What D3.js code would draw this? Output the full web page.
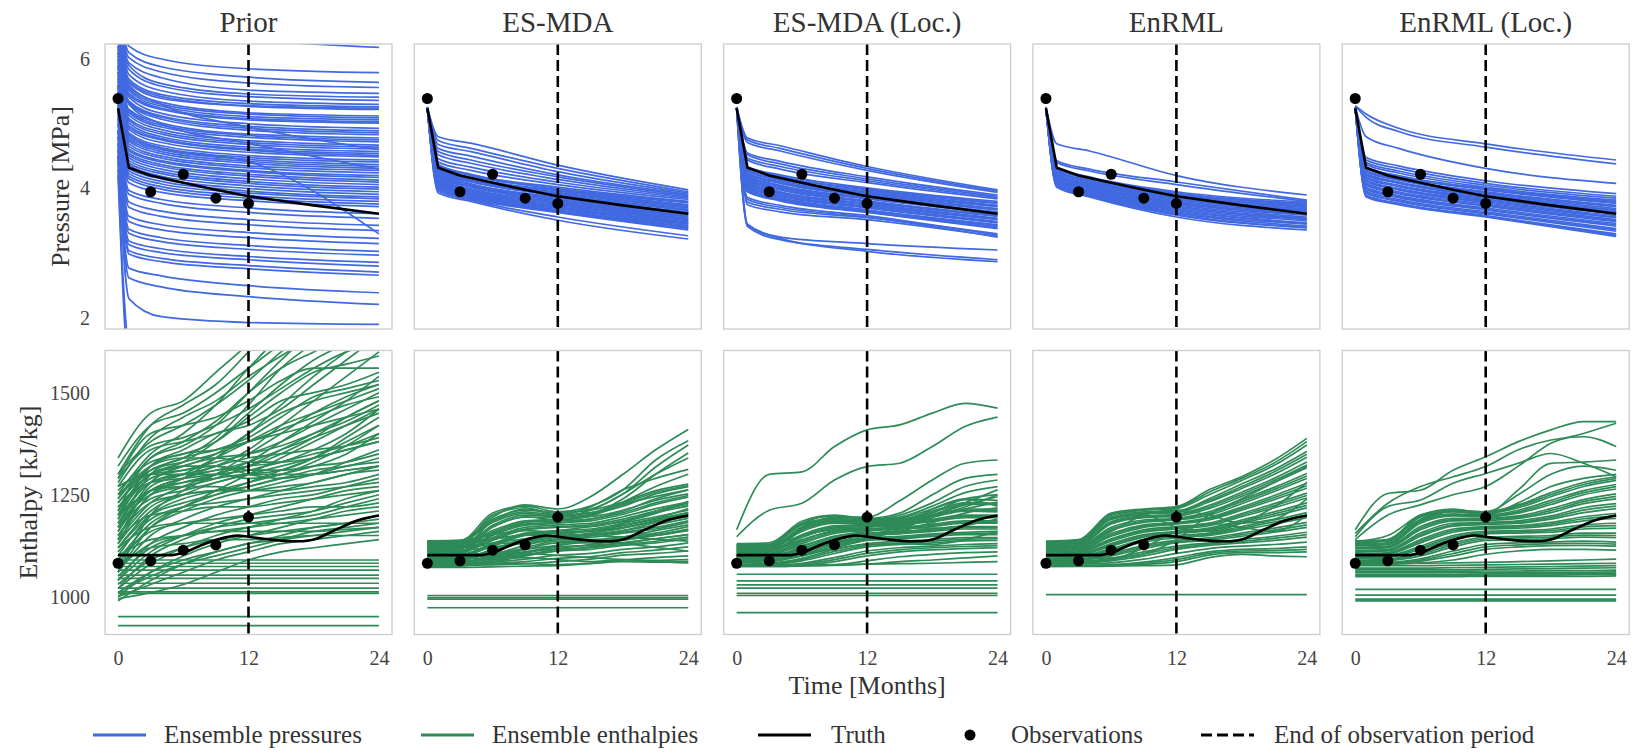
<!DOCTYPE html>
<html>
<head>
<meta charset="utf-8">
<script src="https://cdn.jsdelivr.net/npm/d3@7"></script>
<style>
  body { margin: 0; background: #fff; }
  text { font-family: "Liberation Serif", "Times New Roman", serif; fill: #333; }
</style>
</head>
<body>
<svg id="chart" width="1635" height="753"></svg>
<script>
// ---- data ----
var methods = ["Prior", "ES-MDA", "ES-MDA (Loc.)", "EnRML", "EnRML (Loc.)"]
var xTicks = [0, 12, 24]
var pressureTicks = [2, 4, 6]
var enthalpyTicks = [1000, 1250, 1500]

// knot months of each ensemble member
var pressureMonths = [0, 1, 4, 12, 24]
var enthalpyMonths = [0, 3, 6, 9, 12, 15, 18, 21, 24]

var truthPressureMonths = [0, 1, 3, 6, 9, 12, 18, 24]
var truthPressure = [5.24, 4.32, 4.20, 4.09, 3.98, 3.88, 3.74, 3.61]
var truthEnthalpyMonths = [0, 5, 6, 8, 10, 11, 12, 14, 16, 17, 18, 20, 22, 24]
var truthEnthalpy = [1102, 1102, 1108, 1130, 1146, 1150, 1147, 1140, 1136, 1136, 1140, 1164, 1187, 1199]

var obsMonths = [0, 3, 6, 9, 12]
var obsPressure = [5.39, 3.95, 4.22, 3.85, 3.77]
var obsEnthalpy = [1082, 1088, 1114, 1127, 1195]
var endOfObs = 12

var priorPressure = [
  [7.2, 6.60, 6.45, 6.30, 6.18], [6.9, 6.20, 6.00, 5.85, 5.79], [6.8, 6.10, 5.88, 5.72, 5.64],
  [6.7, 6.02, 5.80, 5.63, 5.56], [6.6, 5.94, 5.71, 5.52, 5.47], [6.8, 5.90, 5.62, 5.46, 5.41],
  [6.5, 5.84, 5.58, 5.42, 5.36], [6.6, 5.76, 5.51, 5.35, 5.30], [6.4, 5.69, 5.45, 5.31, 5.26],
  [6.5, 5.63, 5.39, 5.27, 5.22], [6.3, 5.57, 5.33, 5.17, 5.12], [6.4, 5.51, 5.27, 5.11, 5.06],
  [6.2, 5.44, 5.22, 5.06, 5.01], [6.3, 5.41, 5.16, 5.00, 4.93], [6.1, 5.35, 5.12, 4.96, 4.89],
  [6.2, 5.31, 5.07, 4.90, 4.83], [6.0, 5.22, 5.01, 4.84, 4.78], [6.1, 5.17, 4.95, 4.79, 4.72],
  [5.9, 5.13, 4.91, 4.74, 4.67], [6.0, 5.05, 4.84, 4.68, 4.61], [5.8, 5.01, 4.80, 4.64, 4.57],
  [5.9, 4.94, 4.75, 4.59, 4.51], [5.7, 4.91, 4.71, 4.56, 4.49], [5.8, 4.83, 4.63, 4.48, 4.41],
  [5.6, 4.79, 4.60, 4.45, 4.37], [5.7, 4.73, 4.54, 4.39, 4.31], [5.5, 4.69, 4.50, 4.35, 4.28],
  [5.6, 4.61, 4.43, 4.28, 4.20], [5.4, 4.58, 4.41, 4.26, 4.17], [5.5, 4.51, 4.34, 4.19, 4.10],
  [5.3, 4.47, 4.30, 4.15, 4.06], [5.4, 4.39, 4.23, 4.08, 3.99], [5.2, 4.36, 4.19, 4.04, 3.95],
  [5.3, 4.27, 4.11, 3.96, 3.87], [5.1, 4.23, 4.07, 3.93, 3.84], [5.2, 4.15, 3.99, 3.85, 3.76],
  [5.0, 4.09, 3.94, 3.81, 3.72], [5.1, 3.97, 3.83, 3.70, 3.61], [4.9, 3.91, 3.77, 3.63, 3.54],
  [5.0, 3.79, 3.65, 3.52, 3.43], [5.6, 4.82, 4.62, 4.42, 3.30], [4.9, 3.71, 3.57, 3.44, 3.35],
  [4.8, 3.57, 3.44, 3.32, 3.23], [4.9, 3.49, 3.36, 3.24, 3.15], [4.7, 3.37, 3.24, 3.12, 3.03],
  [4.8, 3.31, 3.18, 3.06, 2.97], [4.6, 3.19, 3.07, 2.95, 2.86], [4.7, 3.13, 3.01, 2.90, 2.80],
  [4.5, 3.04, 2.92, 2.81, 2.71], [4.6, 2.99, 2.87, 2.76, 2.66], [4.5, 2.77, 2.65, 2.50, 2.39],
  [4.4, 2.62, 2.48, 2.33, 2.21], [4.5, 2.30, 2.02, 1.93, 1.90], [4.3, 1.60, 1.40, 1.30, 1.20],
  [4.2, 1.30, 1.10, 1.00, 0.90], [6.35, 5.66, 5.42, 5.28, 5.24], [6.25, 5.54, 5.30, 5.15, 5.09],
  [6.15, 5.47, 5.24, 5.08, 5.03], [6.05, 5.33, 5.10, 4.93, 4.86], [5.95, 5.20, 4.98, 4.82, 4.75],
  [5.85, 5.08, 4.87, 4.71, 4.64], [5.75, 4.97, 4.77, 4.61, 4.54], [5.65, 4.86, 4.66, 4.51, 4.44],
  [5.55, 4.76, 4.57, 4.42, 4.34], [5.45, 4.65, 4.47, 4.32, 4.24], [5.35, 4.54, 4.37, 4.22, 4.13],
  [5.25, 4.43, 4.26, 4.11, 4.02], [5.15, 4.31, 4.15, 4.00, 3.91], [5.05, 4.19, 4.03, 3.89, 3.80],
  [5.9, 5.30, 5.00, 4.70, 4.30], [6.1, 5.60, 5.30, 4.95, 4.60]
]

var esmdaPressure = [
  [5.26, 4.80, 4.70, 4.36, 3.98], [5.26, 4.74, 4.62, 4.31, 3.95], [5.25, 4.68, 4.57, 4.26, 3.93],
  [5.25, 4.62, 4.50, 4.21, 3.91], [5.25, 4.57, 4.44, 4.18, 3.89], [5.25, 4.52, 4.39, 4.14, 3.87],
  [5.24, 4.46, 4.33, 4.10, 3.85], [5.24, 4.41, 4.28, 4.06, 3.83], [5.24, 4.37, 4.22, 4.02, 3.80],
  [5.24, 4.35, 4.21, 3.99, 3.78], [5.24, 4.33, 4.17, 3.97, 3.75], [5.24, 4.31, 4.16, 3.96, 3.74],
  [5.24, 4.29, 4.13, 3.93, 3.70], [5.24, 4.27, 4.12, 3.91, 3.68], [5.24, 4.24, 4.10, 3.89, 3.67],
  [5.24, 4.23, 4.07, 3.86, 3.64], [5.24, 4.21, 4.06, 3.85, 3.62], [5.24, 4.18, 4.04, 3.83, 3.61],
  [5.24, 4.17, 4.02, 3.81, 3.57], [5.24, 4.15, 3.99, 3.79, 3.56], [5.24, 4.12, 3.98, 3.77, 3.53],
  [5.24, 4.11, 3.96, 3.75, 3.52], [5.24, 4.09, 3.94, 3.72, 3.48], [5.24, 4.06, 3.91, 3.71, 3.46],
  [5.24, 4.05, 3.90, 3.69, 3.45], [5.24, 4.03, 3.88, 3.66, 3.41], [5.24, 4.01, 3.86, 3.65, 3.40],
  [5.24, 3.99, 3.84, 3.63, 3.36], [5.24, 3.96, 3.82, 3.56, 3.27], [5.24, 3.93, 3.80, 3.51, 3.22],
  [5.24, 4.36, 4.20, 4.00, 3.79], [5.24, 4.30, 4.15, 3.94, 3.72], [5.24, 4.26, 4.11, 3.90, 3.66],
  [5.24, 4.22, 4.07, 3.86, 3.63], [5.24, 4.19, 4.03, 3.82, 3.59], [5.24, 4.14, 3.99, 3.78, 3.54],
  [5.24, 4.10, 3.95, 3.74, 3.50], [5.24, 4.07, 3.92, 3.70, 3.47], [5.24, 4.04, 3.89, 3.67, 3.43],
  [5.24, 4.00, 3.85, 3.64, 3.38]
]

var esmdaLocPressure = [
  [5.26, 4.78, 4.66, 4.34, 3.98], [5.26, 4.75, 4.62, 4.31, 3.96], [5.25, 4.71, 4.58, 4.28, 3.94],
  [5.25, 4.55, 4.42, 4.18, 3.90], [5.25, 4.52, 4.38, 4.15, 3.88], [5.24, 4.47, 4.34, 4.12, 3.86],
  [5.24, 4.44, 4.30, 4.09, 3.84], [5.24, 4.34, 4.21, 4.01, 3.80], [5.24, 4.32, 4.18, 3.98, 3.77],
  [5.24, 4.29, 4.15, 3.96, 3.74], [5.24, 4.27, 4.12, 3.93, 3.72], [5.24, 4.24, 4.10, 3.91, 3.69],
  [5.24, 4.22, 4.08, 3.88, 3.67], [5.24, 4.20, 4.05, 3.86, 3.64], [5.24, 4.17, 4.03, 3.84, 3.62],
  [5.24, 4.15, 4.01, 3.81, 3.59], [5.24, 4.12, 3.98, 3.79, 3.57], [5.24, 4.10, 3.95, 3.77, 3.54],
  [5.24, 4.07, 3.93, 3.74, 3.52], [5.24, 4.05, 3.91, 3.72, 3.49], [5.24, 4.02, 3.88, 3.70, 3.47],
  [5.24, 4.00, 3.86, 3.67, 3.44], [5.24, 3.97, 3.83, 3.65, 3.41], [5.24, 3.95, 3.81, 3.63, 3.38],
  [5.24, 3.86, 3.74, 3.58, 3.28], [5.24, 3.83, 3.71, 3.56, 3.25], [5.24, 3.79, 3.68, 3.55, 3.30],
  [5.24, 3.75, 3.64, 3.52, 3.26], [5.24, 3.45, 3.25, 3.15, 3.05], [5.24, 3.41, 3.21, 3.06, 2.90],
  [5.24, 3.43, 3.23, 3.03, 2.87], [5.24, 4.33, 4.19, 3.99, 3.78], [5.24, 4.28, 4.14, 3.94, 3.73],
  [5.24, 4.23, 4.09, 3.90, 3.68], [5.24, 4.18, 4.04, 3.85, 3.63], [5.24, 4.13, 3.99, 3.80, 3.58],
  [5.24, 4.08, 3.94, 3.76, 3.53], [5.24, 4.03, 3.89, 3.71, 3.48], [5.24, 3.98, 3.84, 3.66, 3.43],
  [5.24, 3.96, 3.82, 3.64, 3.39]
]

var enrmlPressure = [
  [5.26, 4.69, 4.58, 4.20, 3.90], [5.25, 4.43, 4.30, 4.10, 3.82], [5.25, 4.40, 4.27, 4.06, 3.80],
  [5.24, 4.33, 4.18, 3.95, 3.79], [5.24, 4.32, 4.17, 3.93, 3.77], [5.24, 4.30, 4.15, 3.92, 3.75],
  [5.24, 4.28, 4.13, 3.90, 3.73], [5.24, 4.27, 4.11, 3.88, 3.71], [5.24, 4.25, 4.10, 3.86, 3.69],
  [5.24, 4.23, 4.08, 3.85, 3.67], [5.24, 4.21, 4.06, 3.83, 3.65], [5.24, 4.20, 4.04, 3.81, 3.63],
  [5.24, 4.18, 4.03, 3.79, 3.61], [5.24, 4.16, 4.01, 3.77, 3.59], [5.24, 4.15, 3.99, 3.75, 3.56],
  [5.24, 4.13, 3.98, 3.73, 3.54], [5.24, 4.11, 3.96, 3.71, 3.52], [5.24, 4.09, 3.94, 3.69, 3.50],
  [5.24, 4.08, 3.93, 3.67, 3.47], [5.24, 4.06, 3.91, 3.64, 3.45], [5.24, 4.05, 3.89, 3.62, 3.42],
  [5.24, 4.03, 3.88, 3.59, 3.39], [5.24, 4.02, 3.87, 3.56, 3.36], [5.24, 4.31, 4.16, 3.92, 3.76],
  [5.24, 4.26, 4.12, 3.89, 3.72], [5.24, 4.22, 4.07, 3.84, 3.66], [5.24, 4.17, 4.02, 3.78, 3.60],
  [5.24, 4.12, 3.97, 3.72, 3.53], [5.24, 4.07, 3.92, 3.66, 3.46], [5.24, 4.04, 3.89, 3.60, 3.40]
]

var enrmlLocPressure = [
  [5.28, 5.15, 4.93, 4.69, 4.44], [5.27, 5.10, 4.88, 4.64, 4.38], [5.26, 4.80, 4.62, 4.31, 4.08],
  [5.25, 4.48, 4.35, 4.12, 3.92], [5.25, 4.44, 4.31, 4.08, 3.88], [5.25, 4.40, 4.27, 4.05, 3.85],
  [5.24, 4.37, 4.24, 4.02, 3.82], [5.24, 4.33, 4.20, 4.00, 3.80], [5.24, 4.31, 4.18, 3.98, 3.77],
  [5.24, 4.28, 4.15, 3.95, 3.74], [5.24, 4.26, 4.13, 3.93, 3.72], [5.24, 4.23, 4.10, 3.91, 3.69],
  [5.24, 4.21, 4.08, 3.88, 3.66], [5.24, 4.18, 4.05, 3.86, 3.64], [5.24, 4.16, 4.03, 3.83, 3.61],
  [5.24, 4.13, 4.00, 3.81, 3.58], [5.24, 4.11, 3.98, 3.78, 3.55], [5.24, 4.08, 3.95, 3.76, 3.52],
  [5.24, 4.05, 3.92, 3.73, 3.49], [5.24, 4.02, 3.89, 3.70, 3.46], [5.24, 3.99, 3.86, 3.67, 3.42],
  [5.24, 3.96, 3.83, 3.64, 3.38], [5.24, 3.93, 3.80, 3.61, 3.34], [5.24, 3.90, 3.77, 3.58, 3.30],
  [5.24, 3.87, 3.75, 3.56, 3.26], [5.24, 4.32, 4.19, 3.99, 3.78], [5.24, 4.27, 4.14, 3.94, 3.73],
  [5.24, 4.22, 4.09, 3.89, 3.67], [5.24, 4.17, 4.04, 3.84, 3.62], [5.24, 4.12, 3.99, 3.80, 3.56],
  [5.24, 4.06, 3.93, 3.74, 3.50], [5.24, 4.00, 3.87, 3.68, 3.44], [5.24, 3.94, 3.81, 3.62, 3.36],
  [5.24, 3.89, 3.76, 3.57, 3.28]
]

var priorEnthalpy = [
  [1340, 1450, 1480, 1550, 1620, 1700, 1750, 1800, 1850], [1300, 1420, 1470, 1520, 1600, 1680, 1720, 1760, 1800],
  [1280, 1390, 1440, 1480, 1540, 1590, 1640, 1700, 1760], [1250, 1350, 1400, 1470, 1560, 1640, 1700, 1750, 1800],
  [1220, 1300, 1330, 1380, 1450, 1520, 1580, 1620, 1650], [1200, 1320, 1360, 1400, 1420, 1460, 1520, 1580, 1640],
  [1180, 1280, 1300, 1320, 1360, 1420, 1480, 1540, 1600], [1260, 1330, 1350, 1380, 1440, 1500, 1550, 1570, 1590],
  [1150, 1250, 1290, 1340, 1400, 1470, 1540, 1600, 1650], [1230, 1310, 1340, 1390, 1470, 1560, 1620, 1660, 1700],
  [1290, 1400, 1420, 1440, 1480, 1530, 1560, 1560, 1560], [1170, 1300, 1340, 1360, 1390, 1440, 1490, 1510, 1530],
  [1200, 1290, 1310, 1330, 1350, 1380, 1420, 1460, 1500], [1170, 1260, 1290, 1310, 1320, 1350, 1390, 1440, 1480],
  [1140, 1230, 1270, 1300, 1320, 1330, 1360, 1400, 1460], [1120, 1210, 1250, 1280, 1300, 1310, 1340, 1390, 1440],
  [1190, 1280, 1300, 1300, 1290, 1300, 1330, 1370, 1420], [1100, 1200, 1240, 1260, 1280, 1300, 1320, 1350, 1400],
  [1160, 1260, 1290, 1320, 1340, 1350, 1360, 1370, 1390], [1240, 1320, 1340, 1340, 1330, 1330, 1340, 1360, 1380],
  [1080, 1170, 1210, 1240, 1260, 1280, 1300, 1330, 1360], [1130, 1220, 1250, 1260, 1270, 1290, 1310, 1320, 1340],
  [1210, 1300, 1320, 1320, 1310, 1310, 1320, 1330, 1350], [1060, 1150, 1190, 1220, 1240, 1260, 1280, 1300, 1320],
  [1150, 1230, 1250, 1260, 1260, 1270, 1280, 1300, 1310], [1040, 1130, 1170, 1200, 1220, 1240, 1250, 1270, 1290],
  [1110, 1190, 1220, 1230, 1240, 1250, 1260, 1270, 1280], [1180, 1260, 1270, 1270, 1260, 1260, 1270, 1280, 1300],
  [1020, 1100, 1140, 1170, 1190, 1200, 1210, 1230, 1250], [1050, 1120, 1150, 1170, 1180, 1190, 1200, 1220, 1240],
  [1090, 1160, 1180, 1190, 1200, 1210, 1220, 1220, 1230], [1000, 1060, 1100, 1130, 1150, 1170, 1190, 1210, 1220],
  [1070, 1130, 1150, 1160, 1170, 1180, 1190, 1200, 1210], [990, 1040, 1080, 1110, 1130, 1150, 1170, 1180, 1200],
  [1030, 1090, 1120, 1140, 1150, 1160, 1170, 1180, 1190], [1120, 1170, 1180, 1180, 1180, 1180, 1180, 1180, 1180],
  [1010, 1060, 1090, 1110, 1130, 1140, 1150, 1160, 1170], [1100, 1140, 1150, 1160, 1160, 1160, 1160, 1165, 1170],
  [1000, 1030, 1060, 1090, 1110, 1130, 1140, 1150, 1160], [1080, 1120, 1130, 1140, 1140, 1145, 1150, 1150, 1150],
  [995, 1010, 1030, 1060, 1090, 1110, 1120, 1130, 1140], [1270, 1360, 1380, 1400, 1430, 1480, 1500, 1520, 1550],
  [1210, 1340, 1370, 1420, 1500, 1580, 1650, 1700, 1720], [1140, 1270, 1300, 1340, 1380, 1420, 1450, 1480, 1510],
  [1060, 1200, 1260, 1300, 1350, 1400, 1450, 1490, 1520], [1250, 1300, 1310, 1320, 1300, 1290, 1300, 1310, 1320],
  [1320, 1420, 1450, 1500, 1560, 1620, 1680, 1700, 1720], [1290, 1370, 1390, 1420, 1460, 1510, 1560, 1600, 1620],
  [1240, 1340, 1380, 1430, 1500, 1560, 1600, 1640, 1680], [1230, 1320, 1350, 1360, 1380, 1410, 1440, 1470, 1490],
  [1190, 1300, 1320, 1350, 1400, 1450, 1480, 1500, 1520], [1160, 1280, 1320, 1340, 1350, 1370, 1400, 1430, 1470],
  [1130, 1250, 1280, 1300, 1330, 1380, 1430, 1480, 1540], [1270, 1300, 1300, 1310, 1330, 1360, 1390, 1420, 1450],
  [1220, 1280, 1290, 1300, 1310, 1330, 1350, 1370, 1400], [1170, 1240, 1260, 1280, 1300, 1320, 1340, 1360, 1380],
  [1120, 1200, 1230, 1250, 1270, 1290, 1300, 1320, 1330], [1090, 1180, 1220, 1250, 1280, 1310, 1340, 1380, 1420],
  [1060, 1170, 1220, 1260, 1300, 1340, 1380, 1420, 1460], [1040, 1110, 1150, 1180, 1200, 1220, 1240, 1260, 1270],
  [1020, 1080, 1120, 1150, 1170, 1190, 1210, 1240, 1260], [1140, 1200, 1210, 1220, 1220, 1230, 1240, 1250, 1260],
  [1200, 1260, 1280, 1290, 1300, 1300, 1300, 1310, 1320], [1250, 1310, 1330, 1350, 1380, 1400, 1420, 1440, 1460],
  [1180, 1250, 1270, 1290, 1320, 1360, 1400, 1440, 1480], [1010, 1050, 1080, 1100, 1120, 1140, 1160, 1170, 1180],
  [1300, 1380, 1420, 1470, 1530, 1600, 1660, 1700, 1740]
]
var priorEnthalpyFlat = [1090, 1082, 1074, 1065, 1053, 1045, 1033, 1021, 1012, 1008, 951, 929]

var esmdaEnthalpy = [
  [1128, 1130, 1195, 1225, 1215, 1245, 1300, 1360, 1410], [1132, 1135, 1205, 1222, 1208, 1222, 1262, 1335, 1382],
  [1118, 1120, 1185, 1215, 1205, 1215, 1252, 1318, 1372], [1124, 1126, 1200, 1218, 1200, 1205, 1240, 1300, 1352],
  [1110, 1112, 1170, 1195, 1195, 1212, 1252, 1300, 1340], [1115, 1118, 1175, 1200, 1200, 1220, 1262, 1290, 1312],
  [1100, 1104, 1155, 1182, 1190, 1200, 1232, 1270, 1300], [1136, 1138, 1190, 1212, 1205, 1212, 1232, 1260, 1276],
  [1131, 1133, 1182, 1204, 1195, 1202, 1222, 1252, 1270], [1126, 1128, 1172, 1196, 1188, 1198, 1226, 1246, 1262],
  [1121, 1123, 1162, 1186, 1190, 1196, 1212, 1236, 1252], [1116, 1118, 1152, 1178, 1182, 1186, 1202, 1226, 1244],
  [1111, 1113, 1145, 1170, 1176, 1180, 1196, 1216, 1232], [1106, 1108, 1138, 1164, 1170, 1172, 1186, 1206, 1222],
  [1101, 1103, 1130, 1156, 1162, 1166, 1180, 1196, 1212], [1096, 1098, 1124, 1150, 1156, 1160, 1170, 1186, 1202],
  [1091, 1093, 1116, 1142, 1150, 1152, 1162, 1176, 1192], [1086, 1088, 1110, 1134, 1146, 1146, 1156, 1166, 1182],
  [1081, 1083, 1102, 1126, 1140, 1140, 1146, 1156, 1172], [1078, 1080, 1096, 1116, 1132, 1132, 1140, 1150, 1162],
  [1075, 1077, 1090, 1106, 1122, 1126, 1132, 1142, 1152], [1073, 1075, 1085, 1100, 1112, 1116, 1126, 1132, 1142],
  [1134, 1134, 1142, 1152, 1162, 1172, 1184, 1204, 1234], [1123, 1124, 1132, 1142, 1152, 1162, 1176, 1192, 1216],
  [1113, 1114, 1122, 1132, 1142, 1152, 1162, 1182, 1196], [1103, 1103, 1108, 1116, 1126, 1136, 1146, 1162, 1176],
  [1093, 1093, 1096, 1102, 1112, 1122, 1132, 1142, 1152], [1083, 1083, 1085, 1092, 1102, 1106, 1116, 1122, 1132],
  [1077, 1077, 1078, 1081, 1086, 1092, 1102, 1106, 1112], [1072, 1072, 1073, 1075, 1076, 1082, 1090, 1096, 1100],
  [1137, 1138, 1152, 1162, 1156, 1150, 1146, 1141, 1136], [1129, 1130, 1141, 1151, 1146, 1140, 1131, 1121, 1112],
  [1087, 1088, 1091, 1096, 1091, 1086, 1091, 1086, 1083], [1079, 1080, 1081, 1081, 1079, 1081, 1086, 1085, 1086],
  [1097, 1097, 1101, 1106, 1101, 1096, 1091, 1089, 1091], [1134, 1136, 1186, 1208, 1200, 1206, 1228, 1256, 1272],
  [1119, 1121, 1158, 1182, 1186, 1190, 1206, 1230, 1248], [1109, 1111, 1142, 1166, 1172, 1176, 1190, 1210, 1226],
  [1099, 1101, 1127, 1152, 1158, 1162, 1174, 1190, 1206], [1089, 1091, 1113, 1138, 1148, 1150, 1158, 1170, 1186],
  [1080, 1082, 1099, 1120, 1136, 1136, 1142, 1152, 1166], [1074, 1076, 1087, 1102, 1116, 1120, 1128, 1136, 1146],
  [1118, 1120, 1128, 1136, 1146, 1156, 1168, 1186, 1206], [1098, 1098, 1102, 1110, 1118, 1128, 1138, 1150, 1164],
  [1080, 1080, 1082, 1086, 1094, 1098, 1108, 1114, 1122], [1105, 1106, 1150, 1175, 1180, 1190, 1210, 1240, 1262],
  [1085, 1086, 1094, 1110, 1126, 1150, 1180, 1210, 1230]
]
var esmdaEnthalpyFlat = [1003, 998, 994, 973]

var esmdaLocEnthalpy = [
  [1164, 1300, 1306, 1368, 1409, 1421, 1450, 1474, 1462], [1147, 1212, 1229, 1286, 1319, 1327, 1368, 1417, 1440],
  [1120, 1122, 1170, 1195, 1195, 1235, 1286, 1327, 1335], [1130, 1132, 1185, 1200, 1192, 1205, 1250, 1290, 1300],
  [1125, 1127, 1180, 1198, 1190, 1200, 1230, 1270, 1286], [1118, 1120, 1170, 1192, 1188, 1195, 1222, 1255, 1270],
  [1112, 1114, 1165, 1188, 1185, 1192, 1215, 1240, 1250], [1127, 1128, 1180, 1190, 1188, 1190, 1210, 1230, 1229],
  [1124, 1125, 1175, 1188, 1186, 1188, 1205, 1238, 1222], [1120, 1121, 1168, 1185, 1183, 1186, 1200, 1215, 1215],
  [1116, 1117, 1160, 1180, 1180, 1183, 1195, 1210, 1208], [1112, 1113, 1152, 1174, 1177, 1180, 1190, 1200, 1200],
  [1108, 1110, 1145, 1168, 1172, 1176, 1184, 1194, 1194], [1104, 1106, 1138, 1162, 1167, 1170, 1178, 1186, 1186],
  [1100, 1102, 1130, 1155, 1162, 1165, 1172, 1180, 1180], [1096, 1098, 1122, 1148, 1156, 1160, 1166, 1172, 1172],
  [1092, 1094, 1115, 1140, 1150, 1154, 1160, 1166, 1166], [1088, 1090, 1108, 1132, 1144, 1148, 1154, 1158, 1160],
  [1084, 1086, 1100, 1124, 1138, 1142, 1148, 1152, 1152], [1080, 1082, 1094, 1116, 1130, 1136, 1140, 1145, 1145],
  [1077, 1078, 1088, 1106, 1122, 1128, 1132, 1137, 1138], [1075, 1076, 1082, 1096, 1112, 1120, 1124, 1128, 1130],
  [1074, 1074, 1077, 1086, 1100, 1110, 1115, 1118, 1120], [1074, 1074, 1075, 1078, 1088, 1098, 1104, 1108, 1110],
  [1076, 1076, 1076, 1077, 1080, 1086, 1090, 1095, 1100], [1078, 1078, 1078, 1079, 1080, 1081, 1082, 1084, 1086],
  [1123, 1124, 1150, 1165, 1170, 1180, 1200, 1225, 1245], [1100, 1102, 1115, 1135, 1150, 1170, 1200, 1230, 1262],
  [1110, 1112, 1140, 1160, 1165, 1175, 1215, 1240, 1236], [1090, 1091, 1100, 1120, 1140, 1165, 1195, 1220, 1250],
  [1115, 1116, 1165, 1185, 1178, 1170, 1168, 1175, 1190], [1095, 1096, 1105, 1118, 1128, 1130, 1128, 1140, 1160],
  [1126, 1127, 1178, 1189, 1187, 1189, 1207, 1226, 1226], [1118, 1119, 1164, 1183, 1182, 1185, 1198, 1212, 1212],
  [1110, 1111, 1149, 1171, 1175, 1178, 1187, 1197, 1197], [1102, 1104, 1134, 1158, 1165, 1168, 1175, 1183, 1183],
  [1094, 1096, 1118, 1144, 1153, 1157, 1163, 1169, 1169], [1086, 1088, 1104, 1128, 1141, 1145, 1151, 1155, 1156],
  [1079, 1080, 1091, 1111, 1126, 1132, 1136, 1141, 1142], [1075, 1075, 1080, 1091, 1106, 1115, 1120, 1123, 1125],
  [1105, 1106, 1125, 1148, 1160, 1172, 1195, 1215, 1232], [1098, 1099, 1112, 1130, 1145, 1160, 1182, 1205, 1218]
]
var esmdaLocEnthalpyFlat = [1055, 1039, 1029, 1021, 1008, 1003, 961]

var enrmlEnthalpy = [
  [1136, 1140, 1205, 1215, 1221, 1262, 1294, 1335, 1388], [1133, 1137, 1200, 1212, 1216, 1250, 1285, 1322, 1372],
  [1130, 1134, 1196, 1208, 1210, 1240, 1276, 1312, 1356], [1127, 1131, 1190, 1203, 1206, 1232, 1265, 1300, 1342],
  [1124, 1128, 1184, 1198, 1202, 1224, 1256, 1290, 1330], [1121, 1125, 1178, 1194, 1197, 1216, 1246, 1280, 1316],
  [1118, 1122, 1170, 1188, 1192, 1208, 1238, 1268, 1302], [1115, 1119, 1162, 1182, 1188, 1200, 1228, 1258, 1290],
  [1112, 1116, 1155, 1176, 1182, 1194, 1220, 1248, 1278], [1109, 1113, 1148, 1170, 1178, 1188, 1212, 1238, 1266],
  [1106, 1110, 1142, 1164, 1172, 1180, 1204, 1228, 1254], [1103, 1107, 1136, 1158, 1166, 1174, 1196, 1218, 1242],
  [1100, 1104, 1130, 1152, 1160, 1168, 1188, 1208, 1230], [1097, 1101, 1124, 1146, 1155, 1162, 1180, 1198, 1218],
  [1094, 1098, 1118, 1140, 1150, 1156, 1172, 1188, 1206], [1091, 1095, 1112, 1134, 1144, 1150, 1164, 1178, 1194],
  [1088, 1092, 1106, 1126, 1138, 1144, 1156, 1168, 1182], [1085, 1089, 1100, 1118, 1132, 1138, 1148, 1158, 1170],
  [1082, 1086, 1094, 1110, 1124, 1132, 1140, 1148, 1158], [1079, 1083, 1088, 1100, 1116, 1126, 1132, 1138, 1146],
  [1077, 1080, 1083, 1092, 1106, 1118, 1124, 1128, 1134], [1075, 1077, 1079, 1085, 1096, 1110, 1116, 1118, 1122],
  [1074, 1075, 1076, 1079, 1086, 1102, 1108, 1108, 1110], [1074, 1074, 1075, 1076, 1078, 1096, 1104, 1100, 1098],
  [1120, 1122, 1160, 1200, 1212, 1200, 1180, 1190, 1240], [1090, 1092, 1095, 1105, 1140, 1200, 1240, 1280, 1320],
  [1130, 1132, 1190, 1200, 1170, 1160, 1180, 1220, 1280], [1080, 1082, 1090, 1120, 1160, 1180, 1170, 1160, 1200],
  [1134, 1138, 1202, 1213, 1218, 1256, 1290, 1328, 1380], [1128, 1132, 1193, 1205, 1208, 1236, 1270, 1306, 1349],
  [1122, 1126, 1181, 1196, 1200, 1220, 1251, 1285, 1323], [1116, 1120, 1166, 1185, 1190, 1204, 1233, 1263, 1296],
  [1110, 1114, 1151, 1173, 1180, 1191, 1216, 1243, 1272], [1104, 1108, 1139, 1161, 1169, 1177, 1200, 1223, 1248],
  [1098, 1102, 1127, 1149, 1158, 1165, 1184, 1203, 1224], [1092, 1096, 1115, 1137, 1147, 1153, 1168, 1183, 1200],
  [1086, 1090, 1103, 1122, 1135, 1141, 1152, 1163, 1176], [1080, 1084, 1091, 1105, 1120, 1129, 1136, 1143, 1152],
  [1075, 1076, 1077, 1082, 1091, 1106, 1112, 1113, 1116]
]
var enrmlEnthalpyFlat = [1005]

var enrmlLocEnthalpy = [
  [1164, 1253, 1261, 1310, 1343, 1380, 1409, 1429, 1429], [1155, 1229, 1270, 1294, 1319, 1360, 1384, 1392, 1368],
  [1147, 1221, 1237, 1278, 1302, 1327, 1351, 1327, 1294], [1140, 1200, 1225, 1250, 1270, 1320, 1376, 1400, 1425],
  [1135, 1150, 1200, 1215, 1204, 1262, 1327, 1330, 1335], [1130, 1140, 1190, 1210, 1208, 1250, 1300, 1320, 1310],
  [1125, 1130, 1185, 1210, 1200, 1230, 1270, 1290, 1300], [1137, 1140, 1200, 1212, 1208, 1225, 1255, 1280, 1294],
  [1133, 1136, 1195, 1208, 1204, 1218, 1245, 1270, 1285], [1129, 1132, 1188, 1203, 1200, 1212, 1236, 1260, 1275],
  [1125, 1128, 1180, 1198, 1196, 1205, 1226, 1250, 1264], [1121, 1124, 1172, 1192, 1192, 1198, 1216, 1238, 1252],
  [1117, 1120, 1164, 1186, 1187, 1192, 1206, 1228, 1240], [1113, 1116, 1156, 1180, 1182, 1186, 1198, 1218, 1228],
  [1109, 1112, 1148, 1173, 1177, 1180, 1190, 1206, 1216], [1105, 1108, 1140, 1166, 1172, 1174, 1182, 1196, 1204],
  [1101, 1104, 1132, 1158, 1166, 1168, 1174, 1186, 1192], [1097, 1100, 1124, 1150, 1160, 1162, 1166, 1176, 1180],
  [1093, 1096, 1116, 1142, 1154, 1156, 1158, 1166, 1168], [1089, 1092, 1108, 1132, 1146, 1148, 1150, 1156, 1156],
  [1086, 1088, 1100, 1122, 1138, 1140, 1142, 1146, 1145], [1083, 1084, 1093, 1112, 1128, 1132, 1134, 1136, 1134],
  [1081, 1082, 1087, 1100, 1116, 1122, 1125, 1126, 1124], [1080, 1080, 1083, 1090, 1104, 1112, 1116, 1116, 1114],
  [1082, 1082, 1082, 1083, 1084, 1086, 1088, 1090, 1092], [1070, 1070, 1070, 1071, 1072, 1073, 1074, 1075, 1076],
  [1062, 1062, 1062, 1062, 1063, 1063, 1064, 1064, 1065], [1055, 1055, 1055, 1055, 1056, 1056, 1056, 1057, 1057],
  [1049, 1049, 1049, 1049, 1050, 1050, 1050, 1050, 1051], [1135, 1138, 1198, 1210, 1206, 1222, 1250, 1275, 1290],
  [1127, 1130, 1184, 1200, 1198, 1208, 1231, 1255, 1270], [1119, 1122, 1168, 1189, 1190, 1195, 1211, 1233, 1246],
  [1111, 1114, 1152, 1176, 1180, 1183, 1194, 1212, 1222], [1103, 1106, 1136, 1162, 1169, 1171, 1178, 1191, 1198],
  [1095, 1098, 1120, 1146, 1157, 1159, 1162, 1171, 1174], [1087, 1090, 1104, 1127, 1142, 1144, 1146, 1151, 1150],
  [1082, 1083, 1090, 1106, 1122, 1127, 1130, 1131, 1129], [1076, 1076, 1076, 1077, 1078, 1079, 1080, 1081, 1082],
  [1066, 1066, 1066, 1066, 1067, 1068, 1069, 1070, 1071], [1059, 1059, 1059, 1059, 1059, 1060, 1060, 1060, 1061],
  [1052, 1052, 1052, 1052, 1053, 1053, 1053, 1054, 1054]
]
var enrmlLocEnthalpyFlat = [1018, 1004, 994, 990]

var pressureSets = [priorPressure, esmdaPressure, esmdaLocPressure, enrmlPressure, enrmlLocPressure]
var enthalpySets = [priorEnthalpy, esmdaEnthalpy, esmdaLocEnthalpy, enrmlEnthalpy, enrmlLocEnthalpy]
var enthalpyFlatSets = [priorEnthalpyFlat, esmdaEnthalpyFlat, esmdaLocEnthalpyFlat, enrmlEnthalpyFlat, enrmlLocEnthalpyFlat]

// ---- layout ----
var PRESSURE_COLOR = "#4169e1"
var ENTHALPY_COLOR = "#2e8b57"
var FONT = '"Liberation Serif", "Times New Roman", serif'
var LEFT = 105, STEP = 309.3, PW = 287
var TOP_Y = 44, TOP_H = 285, BOT_Y = 350.5, BOT_H = 284
var MEMBER_W = 1.7

var svg = d3.select("#chart")

var x = d3.scaleLinear().domain([-1.2, 25.2]).range([0, PW])
var yP = d3.scaleLinear().domain([1.83, 6.232]).range([TOP_H, 0])
var yH = d3.scaleLinear().domain([907.4, 1603.4]).range([BOT_H, 0])

function drawPanel(col, row) {
  var isTop = row == 0
  var y = isTop ? yP : yH
  var h = isTop ? TOP_H : BOT_H
  var color = isTop ? PRESSURE_COLOR : ENTHALPY_COLOR
  var knots = isTop ? pressureMonths : enthalpyMonths

  var g = svg.append("g")
    .attr("transform", "translate(" + (LEFT + col * STEP) + "," + (isTop ? TOP_Y : BOT_Y) + ")")

  var clipId = "clip-" + row + "-" + col
  g.append("clipPath").attr("id", clipId)
    .append("rect").attr("width", PW).attr("height", h)

  var plot = g.append("g").attr("clip-path", "url(#" + clipId + ")")

  var member = d3.line()
    .x(function(d, k) { return x(knots[k]) })
    .y(function(d) { return y(d) })
    .curve(d3.curveMonotoneX)

  var members = isTop ? pressureSets[col] : enthalpySets[col]
  plot.selectAll(".member")
    .data(members)
  .enter().append("path")
    .attr("class", "member")
    .attr("d", member)
    .attr("fill", "none")
    .attr("stroke", color)
    .attr("stroke-width", MEMBER_W)

  if (!isTop) {
    plot.selectAll(".flat")
      .data(enthalpyFlatSets[col])
    .enter().append("line")
      .attr("class", "flat")
      .attr("x1", x(knots[0]))
      .attr("x2", x(knots[knots.length - 1]))
      .attr("y1", function(d) { return y(d) })
      .attr("y2", function(d) { return y(d) })
      .attr("stroke", color)
      .attr("stroke-width", MEMBER_W)
  }

  // truth
  var tMonths = isTop ? truthPressureMonths : truthEnthalpyMonths
  var tVals = isTop ? truthPressure : truthEnthalpy
  var truthLine = d3.line()
    .x(function(d, k) { return x(tMonths[k]) })
    .y(function(d) { return y(d) })
    .curve(isTop ? d3.curveLinear : d3.curveMonotoneX)
  plot.append("path")
    .attr("d", truthLine(tVals))
    .attr("fill", "none")
    .attr("stroke", "#000")
    .attr("stroke-width", 2.6)
    .attr("stroke-linejoin", "round")

  // end of observation period
  plot.append("line")
    .attr("x1", x(endOfObs)).attr("x2", x(endOfObs))
    .attr("y1", 0).attr("y2", h)
    .attr("stroke", "#000")
    .attr("stroke-width", 2.6)
    .attr("stroke-dasharray", "11,5")

  // observations
  var obs = isTop ? obsPressure : obsEnthalpy
  plot.selectAll(".obs")
    .data(obs)
  .enter().append("circle")
    .attr("class", "obs")
    .attr("cx", function(d, k) { return x(obsMonths[k]) })
    .attr("cy", function(d) { return y(d) })
    .attr("r", 5.5)
    .attr("fill", "#000")

  // frame
  g.append("rect")
    .attr("width", PW).attr("height", h)
    .attr("fill", "none")
    .attr("stroke", "#cccccc")
    .attr("stroke-width", 1.3)

  if (isTop) {
    g.append("text")
      .attr("x", PW / 2).attr("y", -12)
      .attr("text-anchor", "middle")
      .attr("font-size", 29)
      .text(methods[col])
  } else {
    var xa = g.append("g")
      .attr("transform", "translate(0," + h + ")")
      .call(d3.axisBottom(x).tickValues(xTicks).tickFormat(d3.format("d")).tickSize(0).tickPadding(16))
    xa.select(".domain").remove()
    xa.selectAll("text").attr("font-family", FONT).attr("font-size", 20).style("fill", "#444")
  }

  if (col == 0) {
    var ya = g.append("g")
      .call(d3.axisLeft(y).tickValues(isTop ? pressureTicks : enthalpyTicks)
        .tickFormat(d3.format("d")).tickSize(0).tickPadding(15))
    ya.select(".domain").remove()
    ya.selectAll("text").attr("font-family", FONT).attr("font-size", 20).style("fill", "#444")

    g.append("text")
      .attr("transform", "translate(" + (isTop ? -45 : -77) + "," + (h / 2) + ") rotate(-90)")
      .attr("text-anchor", "middle")
      .attr("dy", "0.35em")
      .attr("font-size", 26)
      .text(isTop ? "Pressure [MPa]" : "Enthalpy [kJ/kg]")
  }
}

for (var r = 0; r < 2; r++) {
  for (var c = 0; c < methods.length; c++) {
    drawPanel(c, r)
  }
}

svg.append("text")
  .attr("x", LEFT + 2 * STEP + PW / 2)
  .attr("y", 694)
  .attr("text-anchor", "middle")
  .attr("font-size", 26)
  .text("Time [Months]")

// legend
var LEG_Y = 735
var legend = svg.append("g")

function legendLine(x0, color, dash, label, tx) {
  legend.append("line")
    .attr("x1", x0).attr("x2", x0 + 53)
    .attr("y1", LEG_Y).attr("y2", LEG_Y)
    .attr("stroke", color)
    .attr("stroke-width", 3)
    .attr("stroke-dasharray", dash)
  legend.append("text")
    .attr("x", tx).attr("y", LEG_Y)
    .attr("dy", "0.32em")
    .attr("font-size", 25)
    .text(label)
}

legendLine(93, PRESSURE_COLOR, null, "Ensemble pressures", 164)
legendLine(421, ENTHALPY_COLOR, null, "Ensemble enthalpies", 492)
legendLine(758, "#000", null, "Truth", 831)
legend.append("circle").attr("cx", 970).attr("cy", LEG_Y).attr("r", 5.5).attr("fill", "#000")
legend.append("text")
  .attr("x", 1011).attr("y", LEG_Y).attr("dy", "0.32em")
  .attr("font-size", 25)
  .text("Observations")
legendLine(1201, "#000", "11,5", "End of observation period", 1274)
</script>
</body>
</html>
